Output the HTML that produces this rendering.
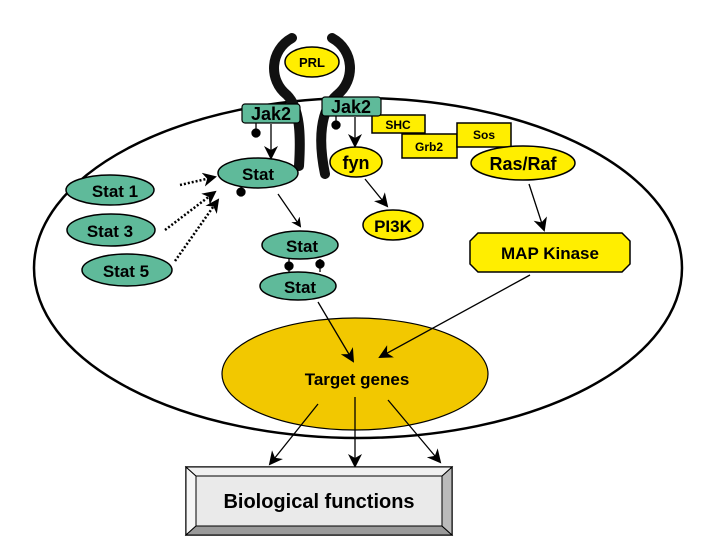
<!DOCTYPE html>
<html><head><style>html,body{margin:0;padding:0;background:#fff}svg{display:block}</style></head><body>
<svg width="720" height="540" viewBox="0 0 720 540" xmlns="http://www.w3.org/2000/svg" font-family="Liberation Sans, sans-serif" font-weight="bold">
<defs>
<marker id="a" markerWidth="10" markerHeight="10" refX="8" refY="5" orient="auto" markerUnits="userSpaceOnUse"><path d="M0,0 L10,5 L0,10 L3,5 z" fill="#000"/></marker>
<marker id="b" markerWidth="14" markerHeight="14" refX="12" refY="7" orient="auto" markerUnits="userSpaceOnUse"><path d="M0,0 L14,7 L0,14 L4,7 z" fill="#000"/></marker>
</defs>
<ellipse cx="358" cy="268" rx="324" ry="170" fill="none" stroke="#000" stroke-width="2.5"/>
<!-- receptor -->
<g fill="none" stroke="#111" stroke-width="10" stroke-linecap="round">
<path d="M292,38 C270,50 268,80 287,95 C300,108 301,135 299,166"/>
<path d="M332,38 C354,50 356,80 337,95 C320,110 318,140 325,174"/>
</g>
<ellipse cx="312" cy="62" rx="27" ry="15" fill="#ffee00" stroke="#000" stroke-width="1.5"/>
<text x="312" y="67" font-size="13" text-anchor="middle">PRL</text>
<!-- target genes (drawn first so arrows overlay) -->
<ellipse cx="355" cy="374" rx="133" ry="56" fill="#f2c800" stroke="#000" stroke-width="1.2"/>
<text x="357" y="385" font-size="17" text-anchor="middle">Target genes</text>
<!-- yellow boxes -->
<rect x="402" y="134" width="55" height="24" fill="#ffee00" stroke="#000" stroke-width="1.5"/>
<text x="429" y="151" font-size="12" text-anchor="middle">Grb2</text>
<rect x="372" y="115" width="53" height="18" fill="#ffee00" stroke="#000" stroke-width="1.5"/>
<text x="398" y="129" font-size="12" text-anchor="middle">SHC</text>
<rect x="457" y="123" width="54" height="24" fill="#ffee00" stroke="#000" stroke-width="1.5"/>
<text x="484" y="139" font-size="12" text-anchor="middle">Sos</text>
<ellipse cx="523" cy="163" rx="52" ry="17" fill="#ffee00" stroke="#000" stroke-width="1.5"/>
<text x="523" y="170" font-size="18" text-anchor="middle">Ras/Raf</text>
<ellipse cx="356" cy="162" rx="26" ry="15" fill="#ffee00" stroke="#000" stroke-width="1.5"/>
<text x="356" y="169" font-size="18" text-anchor="middle">fyn</text>
<ellipse cx="393" cy="225" rx="30" ry="15" fill="#ffee00" stroke="#000" stroke-width="1.5"/>
<text x="393" y="232" font-size="17" text-anchor="middle">PI3K</text>
<path d="M478,233 L622,233 L630,241 L630,264 L622,272 L478,272 L470,264 L470,241 Z" fill="#ffee00" stroke="#000" stroke-width="1.5"/>
<text x="550" y="259" font-size="17" text-anchor="middle">MAP Kinase</text>
<!-- green -->
<rect x="242" y="104" width="58" height="19" rx="3" fill="#5fba9a" stroke="#000" stroke-width="1.2"/>
<text x="271" y="120" font-size="18" text-anchor="middle">Jak2</text>
<rect x="322" y="97" width="59" height="19" rx="3" fill="#5fba9a" stroke="#000" stroke-width="1.2"/>
<text x="351" y="113" font-size="18" text-anchor="middle">Jak2</text>
<ellipse cx="258" cy="173" rx="40" ry="15" fill="#5fba9a" stroke="#000" stroke-width="1.5"/>
<text x="258" y="180" font-size="17" text-anchor="middle">Stat</text>
<ellipse cx="110" cy="190" rx="44" ry="15" fill="#5fba9a" stroke="#000" stroke-width="1.5"/>
<text x="115" y="197" font-size="17" text-anchor="middle">Stat 1</text>
<ellipse cx="111" cy="230" rx="44" ry="16" fill="#5fba9a" stroke="#000" stroke-width="1.5"/>
<text x="110" y="237" font-size="17" text-anchor="middle">Stat 3</text>
<ellipse cx="127" cy="270" rx="45" ry="16" fill="#5fba9a" stroke="#000" stroke-width="1.5"/>
<text x="126" y="277" font-size="17" text-anchor="middle">Stat 5</text>
<ellipse cx="300" cy="245" rx="38" ry="14" fill="#5fba9a" stroke="#000" stroke-width="1.5"/>
<text x="302" y="252" font-size="17" text-anchor="middle">Stat</text>
<ellipse cx="298" cy="286" rx="38" ry="14" fill="#5fba9a" stroke="#000" stroke-width="1.5"/>
<text x="300" y="293" font-size="17" text-anchor="middle">Stat</text>
<!-- lollipops -->
<g stroke="#000" stroke-width="1.3" fill="#000">
<line x1="256" y1="123" x2="256" y2="133"/><circle cx="256" cy="133" r="4"/>
<line x1="336" y1="116" x2="336" y2="125"/><circle cx="336" cy="125" r="4"/>
<line x1="241" y1="187" x2="241" y2="192"/><circle cx="241" cy="192" r="4"/>
<line x1="289" y1="259" x2="289" y2="272"/><circle cx="289" cy="266" r="4"/>
<line x1="320" y1="259" x2="320" y2="272"/><circle cx="320" cy="264" r="4"/>
</g>
<!-- arrows -->
<g stroke="#000" stroke-width="1.3" fill="none">
<line x1="271" y1="124" x2="271" y2="158" marker-end="url(#b)"/>
<line x1="355" y1="117" x2="355" y2="146" marker-end="url(#b)"/>
<line x1="278" y1="194" x2="300" y2="226" marker-end="url(#a)"/>
<line x1="365" y1="179" x2="387" y2="206" marker-end="url(#b)"/>
<line x1="529" y1="184" x2="544" y2="230" marker-end="url(#b)"/>
<line x1="530" y1="275" x2="380" y2="357" marker-end="url(#b)"/>
<line x1="318" y1="302" x2="353" y2="361" marker-end="url(#b)"/>
<line x1="318" y1="404" x2="270" y2="464" marker-end="url(#b)"/>
<line x1="355" y1="397" x2="355" y2="466" marker-end="url(#b)"/>
<line x1="388" y1="400" x2="440" y2="462" marker-end="url(#b)"/>
<g stroke-width="2.5" stroke-dasharray="2,2">
<line x1="180" y1="185" x2="215" y2="177" marker-end="url(#b)"/>
<line x1="165" y1="230" x2="215" y2="192" marker-end="url(#b)"/>
<line x1="175" y1="261" x2="218" y2="200" marker-end="url(#b)"/>
</g>
</g>
<!-- bio box -->
<rect x="186" y="467" width="266" height="68" fill="#e0e0e0" stroke="#000" stroke-width="1.5"/>
<path d="M186,467 L196,476 L196,526 L186,535 Z" fill="#f6f6f6" stroke="#000"/>
<path d="M186,535 L196,526 L442,526 L452,535 Z" fill="#9a9a9a" stroke="#000"/>
<path d="M452,467 L442,476 L442,526 L452,535 Z" fill="#bbb" stroke="#000"/>
<path d="M186,467 L196,476 L442,476 L452,467 Z" fill="#f0f0f0" stroke="#000"/>
<rect x="196" y="476" width="246" height="50" fill="#eaeaea" stroke="#000"/>
<text x="319" y="508" font-size="20" text-anchor="middle">Biological functions</text>
</svg>
</body></html>
